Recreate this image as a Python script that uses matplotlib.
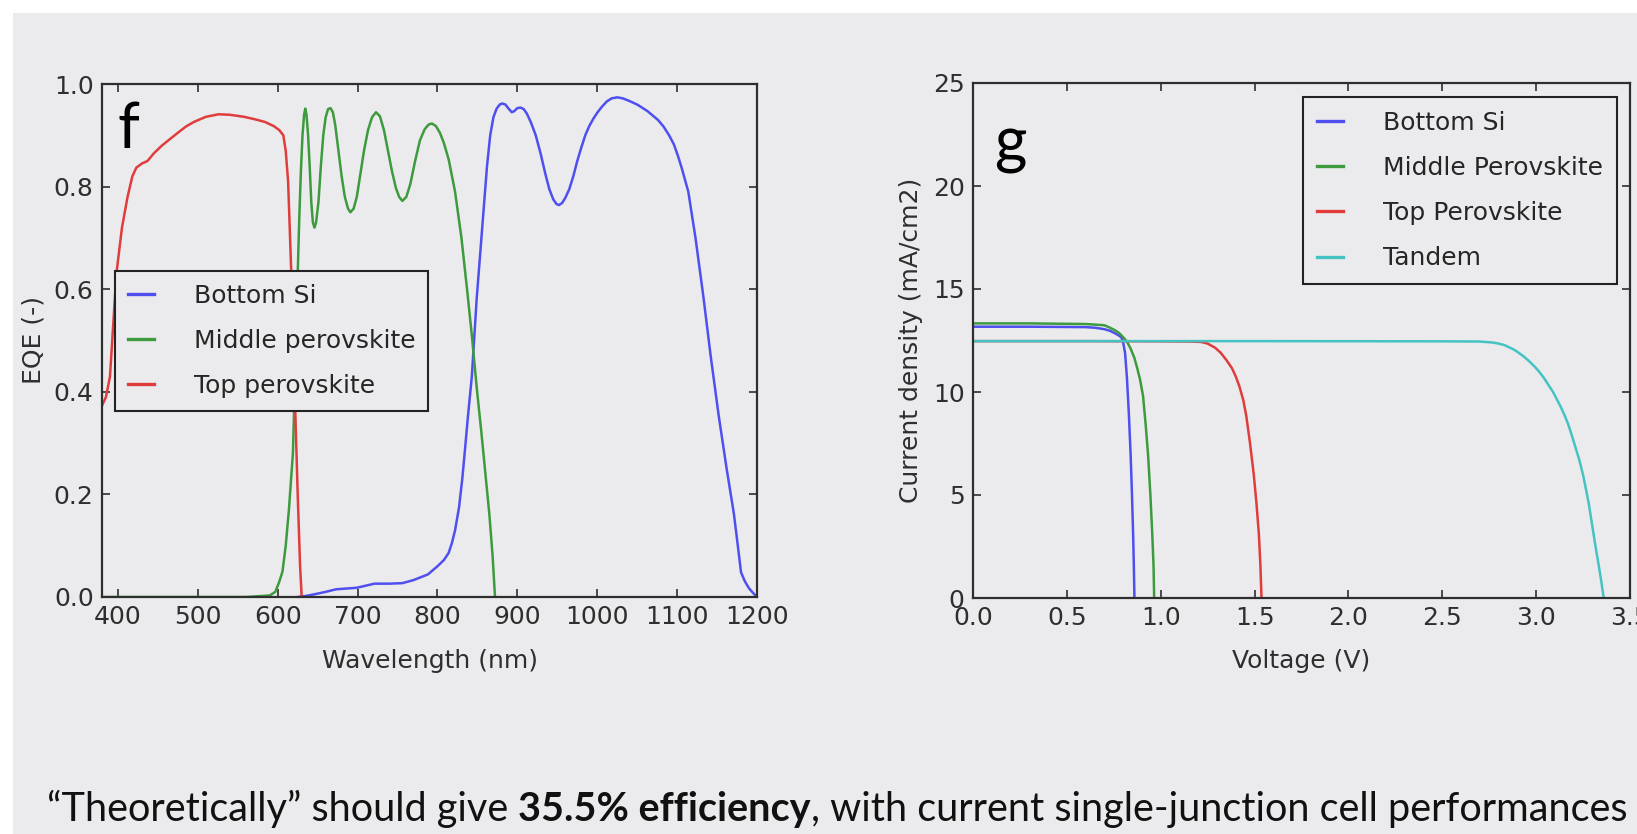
import matplotlib
matplotlib.use("Agg")
import matplotlib.pyplot as plt
from matplotlib.patches import Rectangle

# ---------------- data ----------------
# Panel f: EQE vs wavelength
wl_top = [380, 385, 390, 398, 405, 412, 418, 423, 430, 437, 445, 455, 463, 475, 485, 495, 510,
          526, 540, 558, 572, 584, 595, 602, 607, 610, 613, 617, 620, 622, 625, 628, 630]
eqe_top = [0.373, 0.39, 0.43, 0.63, 0.72, 0.78, 0.82, 0.837, 0.845, 0.85, 0.865, 0.88, 0.89, 0.905,
           0.917, 0.926, 0.936, 0.941, 0.94, 0.936, 0.931, 0.926, 0.918, 0.91, 0.90, 0.87, 0.81,
           0.63, 0.47, 0.36, 0.20, 0.06, 0.0]

wl_mid = [380, 560, 590, 597, 602, 606, 610, 614, 619, 622, 625, 627, 629, 631, 633, 634.5, 636,
          638, 640, 642, 644, 646, 648, 651, 654, 657, 660, 663, 666, 669, 672, 676, 680, 684, 688,
          691, 695, 699, 703, 708, 713, 718, 723, 728, 733, 738, 743, 748, 752, 756, 761, 766, 772,
          778, 784, 789, 793, 798, 803, 808, 814, 822, 830, 837, 843, 849, 855, 860, 865, 869, 872]
eqe_mid = [0.0, 0.0, 0.003, 0.01, 0.03, 0.05, 0.10, 0.17, 0.28, 0.45, 0.63, 0.74, 0.83, 0.90, 0.94,
           0.952, 0.94, 0.90, 0.84, 0.77, 0.73, 0.72, 0.73, 0.77, 0.84, 0.90, 0.935, 0.951, 0.953,
           0.945, 0.92, 0.87, 0.82, 0.78, 0.757, 0.75, 0.757, 0.78, 0.82, 0.87, 0.91, 0.935, 0.945,
           0.937, 0.91, 0.87, 0.83, 0.797, 0.78, 0.772, 0.78, 0.805, 0.85, 0.89, 0.912, 0.921,
           0.923, 0.918, 0.905, 0.885, 0.853, 0.79, 0.70, 0.60, 0.51, 0.41, 0.32, 0.24, 0.16, 0.08,
           0.0]

wl_si = [625, 635, 645, 660, 673, 699, 710, 721, 740, 756, 770, 788, 800, 808, 814, 818, 822, 827,
         831, 834, 838, 843, 849, 854, 858, 862, 866, 870, 874, 878, 881, 885, 889, 893, 896, 900,
         904, 908, 912, 917, 923, 929, 935, 940, 945, 949, 952, 956, 960, 965, 970, 975, 980, 985,
         990, 995, 1000, 1006, 1012, 1018, 1025, 1032, 1040, 1050, 1063, 1076, 1083, 1090, 1096,
         1101, 1106, 1114, 1123, 1133, 1142, 1152, 1162, 1171, 1176, 1180, 1185, 1190, 1195, 1200]
eqe_si = [0.0, 0.002, 0.005, 0.01, 0.015, 0.018, 0.022, 0.026, 0.026, 0.027, 0.033, 0.044, 0.06,
          0.072, 0.086, 0.105, 0.13, 0.175, 0.23, 0.28, 0.35, 0.43, 0.58, 0.68, 0.76, 0.84, 0.90,
          0.935, 0.952, 0.96, 0.962, 0.96, 0.952, 0.945, 0.947, 0.953, 0.954, 0.951, 0.942, 0.925,
          0.90, 0.865, 0.825, 0.795, 0.775, 0.766, 0.764, 0.768, 0.778, 0.795, 0.82, 0.85, 0.876,
          0.90, 0.918, 0.932, 0.944, 0.956, 0.966, 0.972, 0.974, 0.972, 0.967, 0.96, 0.947, 0.93,
          0.917, 0.90, 0.882, 0.86, 0.835, 0.79, 0.70, 0.584, 0.47, 0.354, 0.25, 0.163, 0.10,
          0.048, 0.03, 0.017, 0.008, 0.0]

eqe_labels = ["Bottom Si", "Middle perovskite", "Top perovskite"]

# Panel g: J-V curves
v_si = [0, 0.3, 0.6, 0.65, 0.70, 0.73, 0.75, 0.77, 0.79, 0.80, 0.81, 0.82, 0.83, 0.84, 0.847,
        0.853, 0.857, 0.86]
j_si = [13.17, 13.17, 13.15, 13.12, 13.05, 12.97, 12.88, 12.78, 12.66, 12.4, 11.9, 10.7, 9.0, 6.9,
        5.0, 3.1, 1.5, 0]

v_mid = [0, 0.3, 0.6, 0.70, 0.73, 0.76, 0.78, 0.80, 0.82, 0.84, 0.86, 0.875, 0.89, 0.906, 0.92,
         0.933, 0.945, 0.955, 0.962, 0.965]
j_mid = [13.33, 13.33, 13.3, 13.24, 13.12, 12.98, 12.85, 12.66, 12.45, 12.1, 11.65, 11.15, 10.6,
         9.8, 8.4, 6.9, 5.0, 3.1, 1.5, 0]

v_top = [0, 0.6, 1.0, 1.15, 1.215, 1.25, 1.29, 1.32, 1.35, 1.38, 1.40, 1.42, 1.44, 1.456, 1.476,
         1.496, 1.51, 1.523, 1.531, 1.537]
j_top = [12.47, 12.47, 12.46, 12.45, 12.43, 12.35, 12.15, 11.9, 11.55, 11.15, 10.75, 10.25, 9.6,
         8.83, 7.5, 5.97, 4.6, 3.1, 1.6, 0]

v_tan = [0, 1.5, 2.5, 2.7, 2.77, 2.8, 2.83, 2.877, 2.9, 2.93, 2.96, 2.985, 3.015, 3.04, 3.065,
         3.09, 3.11, 3.13, 3.15, 3.17, 3.19, 3.21, 3.23, 3.25, 3.265, 3.28, 3.293, 3.306, 3.32,
         3.335, 3.348, 3.36]
j_tan = [12.47, 12.47, 12.46, 12.45, 12.40, 12.35, 12.28, 12.08, 11.95, 11.75, 11.52, 11.3, 11.0,
         10.7, 10.35, 10.0, 9.65, 9.3, 8.9, 8.45, 7.9, 7.3, 6.7, 5.97, 5.3, 4.6, 3.85, 3.1, 2.3,
         1.5, 0.75, 0]

jv_labels = ["Bottom Si", "Middle Perovskite", "Top Perovskite", "Tandem"]

eqe_xticks = [400, 500, 600, 700, 800, 900, 1000, 1100, 1200]
eqe_yticks = [0.0, 0.2, 0.4, 0.6, 0.8, 1.0]
jv_xticks = [0.0, 0.5, 1.0, 1.5, 2.0, 2.5, 3.0, 3.5]
jv_yticks = [0, 5, 10, 15, 20, 25]

# ---------------- style ----------------
BG = "#ebebed"
DARK = "#2e2e2e"
C_BLUE = "#4f4ff0"
C_GREEN = "#3d9a3d"
C_RED = "#e03c3c"
C_CYAN = "#45c3c3"
FS = 18
LW = 1.8

plt.rcParams["font.family"] = ["DejaVu Sans"]

W, H = 1637, 834
fig = plt.figure(figsize=(W / 100, H / 100), dpi=100, facecolor="white")
fig.patches.append(Rectangle((13 / W, 0), 1, (H - 13) / H, transform=fig.transFigure,
                             facecolor=BG, edgecolor="none", zorder=-10))


def style_axes(ax):
    ax.set_facecolor("none")
    for s in ax.spines.values():
        s.set_color(DARK)
        s.set_linewidth(1.6)
    ax.tick_params(direction="in", top=True, right=True, length=6, width=1.2,
                   color=DARK, labelcolor=DARK, labelsize=FS, pad=6)


def fix_legend(leg):
    fr = leg.get_frame()
    fr.set_facecolor(BG)
    fr.set_edgecolor("#222222")
    fr.set_linewidth(1.5)
    fr.set_alpha(1)
    for t in leg.get_texts():
        t.set_color("#262626")
    for l in leg.get_lines():
        l.set_linewidth(2.4)


# ---------------- panel f ----------------
ax1 = fig.add_axes([102 / W, (H - 597) / H, 655 / W, 513 / H])
style_axes(ax1)
ax1.plot(wl_si, eqe_si, color=C_BLUE, lw=LW, label=eqe_labels[0])
ax1.plot(wl_mid, eqe_mid, color=C_GREEN, lw=LW, label=eqe_labels[1])
ax1.plot(wl_top, eqe_top, color=C_RED, lw=LW, label=eqe_labels[2])
ax1.set_xlim(380, 1200)
ax1.set_ylim(0, 1.0)
ax1.set_xticks(eqe_xticks)
ax1.set_yticks(eqe_yticks)
ax1.set_yticklabels([f"{v:.1f}" for v in eqe_yticks])
ax1.set_xlabel("Wavelength (nm)", fontsize=FS, color=DARK)
ax1.set_ylabel("EQE (-)", fontsize=FS, color=DARK)
ax1.xaxis.set_label_coords(0.5, -0.101)
ax1.yaxis.set_label_coords(-0.087, 0.5)
leg1 = ax1.legend(loc="upper left", bbox_to_anchor=(0.02, 0.635), fontsize=FS,
                  fancybox=False, framealpha=1, borderpad=0.5, labelspacing=0.85,
                  handlelength=1.05, handletextpad=1.6, borderaxespad=0)
fix_legend(leg1)
ax1.text(0.024, 0.875, "f", transform=ax1.transAxes, fontsize=45, family="Lato",
         ha="left", va="baseline", color="black")

# ---------------- panel g ----------------
ax2 = fig.add_axes([973 / W, (H - 598) / H, 657 / W, 515 / H])
style_axes(ax2)
ax2.plot(v_si, j_si, color=C_BLUE, lw=LW, label=jv_labels[0])
ax2.plot(v_mid, j_mid, color=C_GREEN, lw=LW, label=jv_labels[1])
ax2.plot(v_top, j_top, color=C_RED, lw=LW, label=jv_labels[2])
ax2.plot(v_tan, j_tan, color=C_CYAN, lw=LW, label=jv_labels[3])
ax2.set_xlim(0, 3.5)
ax2.set_ylim(0, 25)
ax2.set_xticks(jv_xticks)
ax2.set_xticklabels([f"{v:.1f}" for v in jv_xticks])
ax2.set_yticks(jv_yticks)
ax2.set_xlabel("Voltage (V)", fontsize=FS, color=DARK)
ax2.set_ylabel("Current density (mA/cm2)", fontsize=FS, color=DARK)
ax2.xaxis.set_label_coords(0.5, -0.099)
ax2.yaxis.set_label_coords(-0.076, 0.5)
leg2 = ax2.legend(loc="upper right", bbox_to_anchor=(0.98, 0.973), fontsize=FS,
                  fancybox=False, framealpha=1, borderpad=0.55, labelspacing=0.85,
                  handlelength=1.05, handletextpad=1.6, borderaxespad=0)
fix_legend(leg2)
ax2.text(0.032, 0.845, "g", transform=ax2.transAxes, fontsize=45, family="Lato",
         ha="left", va="baseline", color="black")

# ---------------- bottom sentence ----------------
pieces = [("\u201cTheoretically\u201d should give ", "normal"),
          ("35.5% efficiency", "bold"),
          (", with current single-junction cell performances", "normal")]
x_left, x_right = 47, 1634
base_y = (H - 821) / H
fig.canvas.draw()
renderer = fig.canvas.get_renderer()


def draw_sentence(fs):
    objs = []
    x = x_left
    for txt, wt in pieces:
        t = fig.text(x / W, base_y, txt, fontsize=fs, family="Lato", weight=wt,
                     ha="left", va="baseline", color="#111111")
        bb = t.get_window_extent(renderer)
        x = bb.x1
        objs.append(t)
    return objs, x


objs, xend = draw_sentence(25)
scale = (x_right - x_left) / (xend - x_left)
for o in objs:
    o.remove()
draw_sentence(25 * scale)

fig.savefig("out.png", dpi=100, facecolor=fig.get_facecolor())
